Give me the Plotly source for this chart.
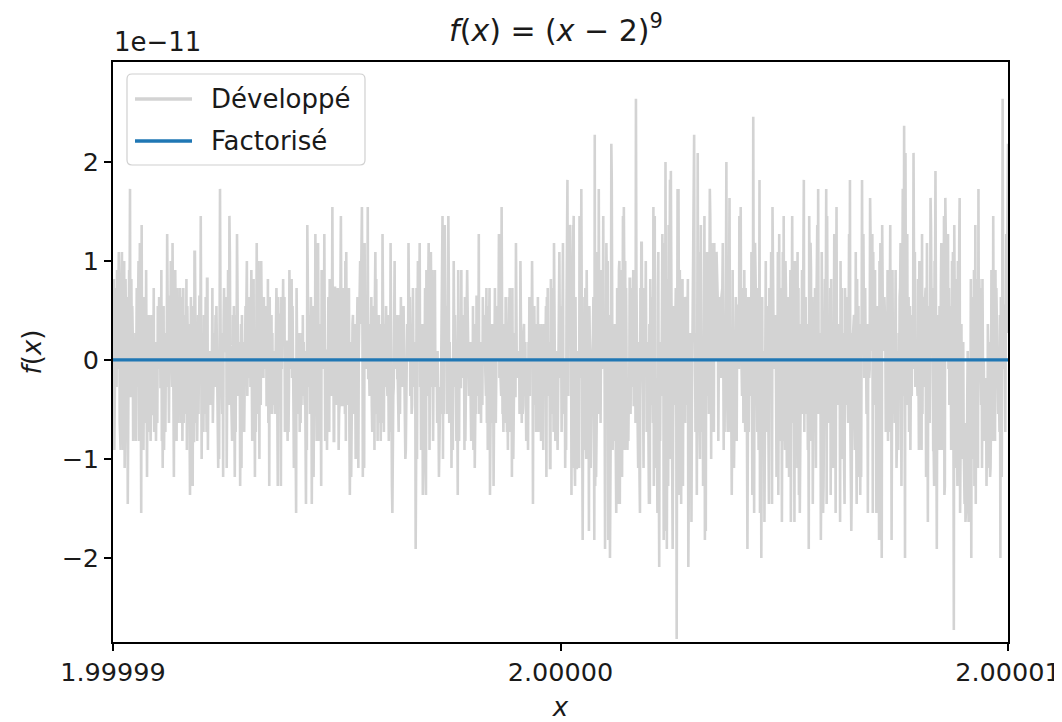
import numpy as np
import plotly.graph_objects as go

# ---- data definition ----
x_min, x_max = 1.99999, 2.00001
n_points = 2000
# expanded form of (x - 2)^9 : coefficients from x^9 down to x^0
coefficients = [1, -18, 144, -672, 2016, -4032, 5376, -4608, 2304, -512]
root = 2
degree = 9
series_names = ["Développé", "Factorisé"]
series_colors = ["#d3d3d3", "#1f77b4"]
x_ticks = [1.99999, 2.0, 2.00001]
x_tick_labels = ["1.99999", "2.00000", "2.00001"]
y_ticks = [-2e-11, -1e-11, 0, 1e-11, 2e-11]
y_tick_labels = ["−2", "−1", "0", "1", "2"]
y_range = [-2.85e-11, 3.01e-11]

x = np.linspace(x_min, x_max, n_points)
y_dev = np.zeros_like(x)
for k, c in enumerate(coefficients):
    y_dev = y_dev + c * x ** (degree - k)
y_fac = (x - root) ** degree

FONT = "DejaVu Sans"
TXT = "#1a1a1a"
# page has an 8px body margin: the figure is drawn from (8, 8)
OFF = 8
W, H = 1062 - OFF, 722 - OFF
# plot area in page pixels: x 113..1008, y 62..642
PX0, PX1, PY0, PY1 = 113, 1008, 62, 642
L, R, T, B = PX0 - OFF, 1062 - PX1, PY0 - OFF, 722 - PY1
PW, PH = PX1 - PX0, PY1 - PY0


def px(xp):
    return (xp - PX0) / PW


def py(yp):
    return (PY1 - yp) / PH


fig = go.Figure()
fig.add_trace(go.Scatter(x=x, y=y_dev, mode="lines", name=series_names[0],
                         showlegend=False,
                         line=dict(color=series_colors[0], width=2.6)))
fig.add_trace(go.Scatter(x=x, y=y_fac, mode="lines", name=series_names[1],
                         showlegend=False,
                         line=dict(color=series_colors[1], width=3.2)))

axis_common = dict(showline=True, linecolor="black", linewidth=1.6, mirror=True,
                   ticks="outside", ticklen=7, tickwidth=1.6, tickcolor="black",
                   showgrid=False, zeroline=False, automargin=False,
                   tickfont=dict(family=FONT, size=25.5, color=TXT))

fig.update_layout(
    width=W, height=H,
    margin=dict(l=L, r=R, t=T, b=B),
    paper_bgcolor="white", plot_bgcolor="white",
    font=dict(family=FONT, size=26, color=TXT),
    title=dict(text="<i>f</i>(<i>x</i>) = (<i>x</i> − 2)<sup>9</sup>",
               x=px(556), xref="paper", xanchor="center",
               y=1 - (30 - OFF) / H, yref="container", yanchor="middle",
               font=dict(family=FONT, size=30, color=TXT)),
    xaxis=dict(range=[x_min, x_max], tickvals=x_ticks, ticktext=x_tick_labels,
               title=dict(text="<i>x</i>", standoff=15, font=dict(size=26)),
               **axis_common),
    yaxis=dict(range=y_range, tickvals=y_ticks, ticktext=y_tick_labels,
               title=dict(text="<i>f</i>(<i>x</i>)", standoff=12, font=dict(size=26)),
               **axis_common),
    showlegend=False,
)

# offset text of the y axis
fig.add_annotation(text="1e−11", xref="paper", yref="paper", x=0, y=1,
                   xanchor="left", yanchor="bottom", yshift=3, xshift=-1,
                   showarrow=False, font=dict(family=FONT, size=26, color=TXT))

# legend (matplotlib style, upper left)
bx0, bx1, by0, by1 = px(127), px(365), py(165), py(74)
rx, ry = 5 / PW, 5 / PH
path = (f"M {bx0+rx},{by0} L {bx1-rx},{by0} Q {bx1},{by0} {bx1},{by0+ry} "
        f"L {bx1},{by1-ry} Q {bx1},{by1} {bx1-rx},{by1} "
        f"L {bx0+rx},{by1} Q {bx0},{by1} {bx0},{by1-ry} "
        f"L {bx0},{by0+ry} Q {bx0},{by0} {bx0+rx},{by0} Z")
fig.add_shape(type="path", path=path, xref="paper", yref="paper",
              fillcolor="rgba(255,255,255,0.85)", line=dict(color="#d0d0d0", width=1.2))
for i, (name, col) in enumerate(zip(series_names, series_colors)):
    yy = py(99 + 42 * i)
    fig.add_shape(type="line", xref="paper", yref="paper",
                  x0=px(135), x1=px(192), y0=yy, y1=yy,
                  line=dict(color=col, width=3.4))
    fig.add_annotation(text=name, xref="paper", yref="paper", x=px(209), y=yy,
                       xanchor="left", yanchor="middle", showarrow=False,
                       font=dict(family=FONT, size=26, color=TXT))

fig.write_html("out.html")
